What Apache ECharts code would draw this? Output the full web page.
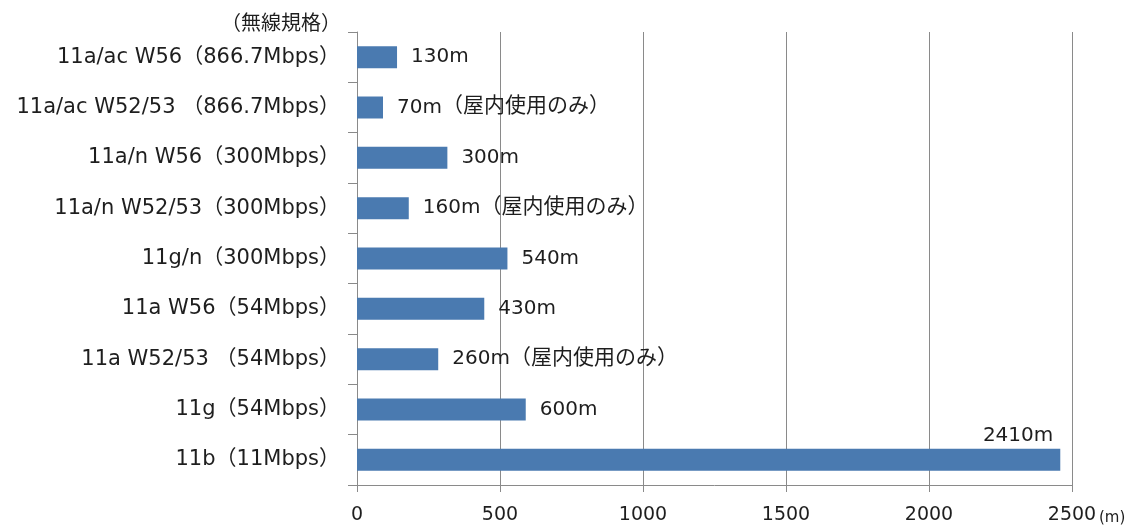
<!DOCTYPE html>
<html><head><meta charset="utf-8">
<script src="https://cdn.jsdelivr.net/npm/echarts@6/dist/echarts.min.js"></script>
<style>html,body{margin:0;padding:0;background:#fff}#c{width:1137px;height:526px}</style>
</head><body><div id="c"></div>
<script>
const categories = [
  '11a/ac W56（866.7Mbps）',
  '11a/ac W52/53 （866.7Mbps）',
  '11a/n W56（300Mbps）',
  '11a/n W52/53（300Mbps）',
  '11g/n（300Mbps）',
  '11a W56（54Mbps）',
  '11a W52/53 （54Mbps）',
  '11g（54Mbps）',
  '11b（11Mbps）'
];
// bar lengths as drawn in the picture (m)
const distances = [140, 91, 316, 181, 526, 445, 284, 590, 2459];
// value labels as printed in the picture
const valueLabels = ['130m', '70m', '300m', '160m', '540m', '430m', '260m', '600m', '2410m'];
const valueNotes = ['', '（屋内使用のみ）', '', '（屋内使用のみ）', '', '', '（屋内使用のみ）', '', ''];
const xTickLabels = ['0', '500', '1000', '1500', '2000', '2500'];
const yAxisTitle = '（無線規格）';
const xAxisUnit = '(m)';

const FONT = "'DejaVu Sans', 'Noto Sans CJK JP', sans-serif";
const CJK = "'Noto Sans CJK JP', sans-serif";
const GRAY = '#8a8a8a';
const TEXT = '#1e1e1e';
const chart = echarts.init(document.getElementById('c'), null, {renderer: 'canvas'});
chart.setOption({
  animation: false,
  grid: {left: 357, right: 65, top: 32, bottom: 41, containLabel: false},
  xAxis: {
    type: 'value', min: 0, max: 2500, interval: 500,
    axisLine: {show: true, lineStyle: {color: GRAY}},
    axisTick: {show: true, length: 7, lineStyle: {color: GRAY}},
    splitLine: {show: true, lineStyle: {color: GRAY}},
    axisLabel: {margin: 21, fontSize: 19, color: TEXT, fontFamily: FONT,
      formatter: v => xTickLabels[Math.round(v / 500)]}
  },
  yAxis: {
    type: 'category', inverse: true, data: categories,
    axisLine: {show: true, lineStyle: {color: GRAY}},
    axisTick: {show: true, length: 9, lineStyle: {color: GRAY}},
    axisLabel: {margin: 17, fontSize: 21, color: TEXT, fontFamily: FONT}
  },
  series: [{
    type: 'bar',
    barWidth: 22,
    itemStyle: {color: '#4a7ab0'},
    label: {
      show: true, position: 'right', distance: 14,
      formatter: p => '{n|' + valueLabels[p.dataIndex] + '}' +
        (valueNotes[p.dataIndex] ? '{j|' + valueNotes[p.dataIndex] + '}' : ''),
      color: TEXT,
      rich: {
        n: {fontSize: 20, fontFamily: FONT, color: TEXT, lineHeight: 26, verticalAlign: 'middle'},
        j: {fontSize: 21, fontFamily: CJK, color: TEXT, lineHeight: 26, verticalAlign: 'middle', padding: [0, 0, 6, 0]}
      }
    },
    data: distances.map((v, i) => i === distances.length - 1 ? {
      value: v,
      label: {position: ['100%', 0], align: 'right', verticalAlign: 'bottom', offset: [-7, 0]}
    } : v)
  }],
  graphic: [
    {type: 'text', style: {text: yAxisTitle, x: 341, y: 22, align: 'right', verticalAlign: 'middle',
      font: "20px 'Noto Sans CJK JP', sans-serif", fill: TEXT}},
    {type: 'text', style: {text: xAxisUnit, x: 1099, y: 518, align: 'left', verticalAlign: 'middle',
      font: "15px 'DejaVu Sans', sans-serif", fill: TEXT}}
  ]
});
</script>
</body></html>
